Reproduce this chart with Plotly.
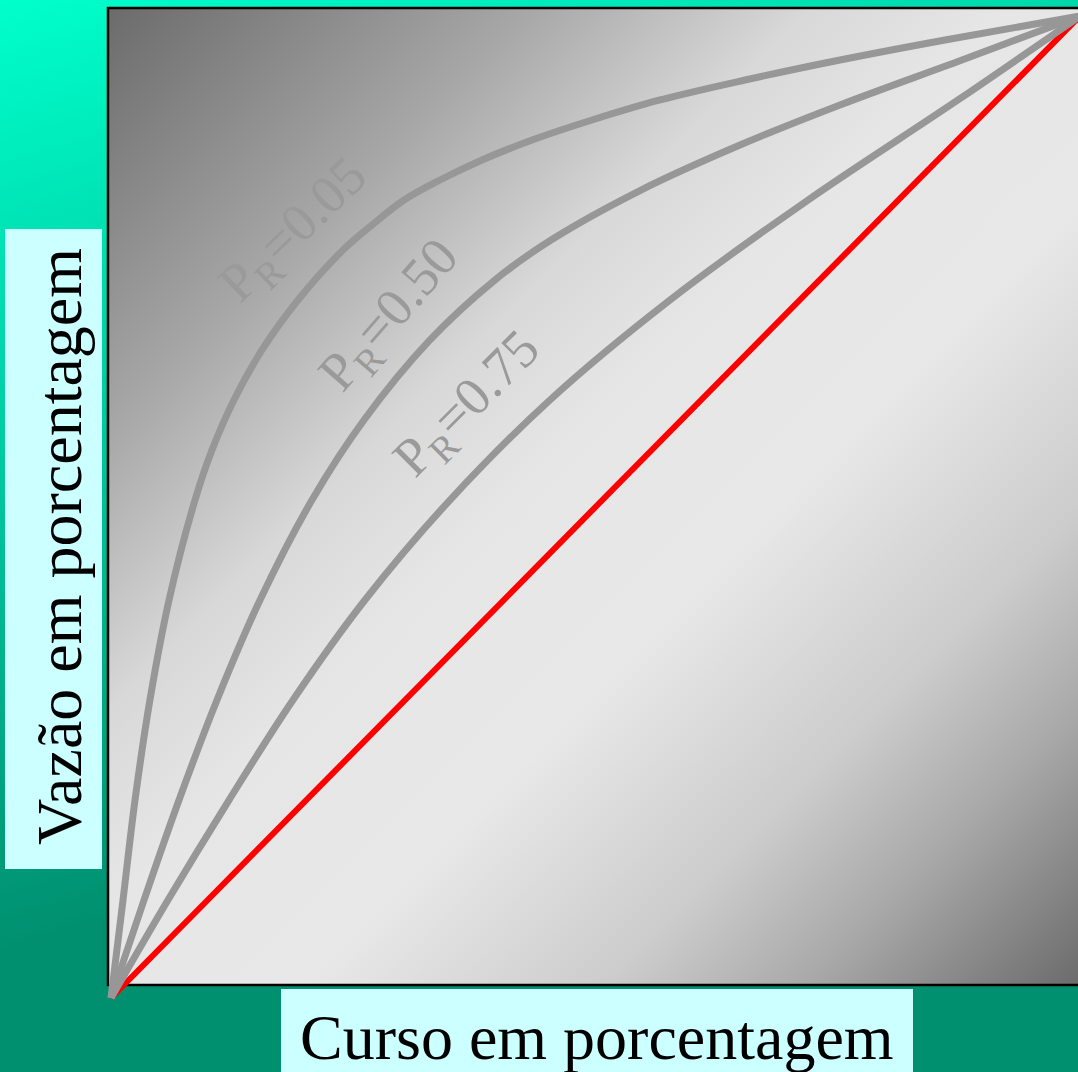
import base64
import plotly.graph_objects as go

W, H = 1078, 1072

# ---- data (percent of stroke vs percent of flow) ----
curso_linear = [0, 100]
vazao_linear = [0, 100]

curso_pr005 = [0, 1.24, 2.48, 4.02, 5.99, 8.67, 10.42, 12.69, 15.58, 19.30, 23.94, 26.94, 30.24,
               33.95, 38.29, 43.45, 49.64, 56.66, 65.43, 75.23, 86.07, 100]
vazao_pr005 = [0, 9.98, 20.16, 30.35, 40.53, 50.71, 55.80, 60.90, 65.99, 71.08, 76.17, 78.72, 81.26,
               83.30, 85.34, 87.37, 89.41, 91.45, 93.48, 95.52, 97.56, 100]

curso_pr050 = [0, 3.41, 7.02, 10.94, 15.38, 20.74, 26.11, 32.92, 39.63, 45.41, 54.70, 64.91, 75.23, 87.82, 100]
vazao_pr050 = [0, 9.98, 20.16, 30.35, 40.53, 50.71, 58.86, 67.01, 73.12, 77.19, 82.28, 86.86, 90.94, 95.52, 100]

curso_pr075 = [0, 5.88, 12.18, 18.78, 26.21, 34.98, 45.30, 57.69, 71.93, 87.41, 100]
vazao_pr075 = [0, 9.98, 20.16, 30.35, 40.53, 50.71, 60.90, 71.08, 81.26, 91.45, 100]

curve_labels = ["P<sub>R</sub>=0.05", "P<sub>R</sub>=0.50", "P<sub>R</sub>=0.75"]
x_title = "Curso em porcentagem"
y_title = "Vazão em porcentagem"

# ---- styling helpers ----
def svg_uri(svg):
    return "data:image/svg+xml;base64," + base64.b64encode(svg.encode("utf-8")).decode("ascii")

bg_svg = f'''<svg xmlns="http://www.w3.org/2000/svg" width="{W}" height="{H}" viewBox="0 0 {W} {H}" preserveAspectRatio="none">
<defs><linearGradient id="t" gradientUnits="userSpaceOnUse" x1="0" y1="0" x2="269" y2="869">
<stop offset="0" stop-color="#00FFCC"/><stop offset="1" stop-color="#009070"/>
</linearGradient></defs>
<rect width="{W}" height="{H}" fill="url(#t)"/></svg>'''

PX0, PY0, PX1, PY1 = 108, 8, 1080, 985
pw, ph = PX1 - PX0, PY1 - PY0
plot_svg = f'''<svg xmlns="http://www.w3.org/2000/svg" width="{pw}" height="{ph}" viewBox="0 0 {pw} {ph}" preserveAspectRatio="none">
<defs><linearGradient id="g" x1="0" y1="0" x2="1" y2="1">
<stop offset="0" stop-color="#6b6b6b"/>
<stop offset="0.22" stop-color="#a8a8a8"/>
<stop offset="0.36" stop-color="#d8d8d8"/>
<stop offset="0.46" stop-color="#e6e6e6"/>
<stop offset="0.60" stop-color="#e8e8e8"/>
<stop offset="0.757" stop-color="#cccccc"/>
<stop offset="0.86" stop-color="#a8a8a8"/>
<stop offset="1" stop-color="#6b6b6b"/>
</linearGradient></defs>
<rect width="{pw}" height="{ph}" fill="url(#g)"/></svg>'''

def px(x):
    return x / W

def py(y):
    return 1 - y / H

fig = go.Figure()

fig.add_trace(go.Scatter(x=curso_linear, y=vazao_linear, mode="lines",
                         line=dict(color="#FF0000", width=6), hoverinfo="skip"))
for cx, cy in [(curso_pr005, vazao_pr005), (curso_pr050, vazao_pr050), (curso_pr075, vazao_pr075)]:
    fig.add_trace(go.Scatter(x=cx, y=cy, mode="lines",
                             line=dict(color="#979797", width=7, shape="spline", smoothing=1.0),
                             hoverinfo="skip"))

# axis ranges so that the plot area maps onto the slide layout
sx, sy = 9.69, 9.82
ox, oy = 111, 998
fig.update_xaxes(range=[(0 - ox) / sx, (W - ox) / sx], visible=False, domain=[0, 1])
fig.update_yaxes(range=[(oy - H) / sy, (oy - 0) / sy], visible=False, domain=[0, 1])

fig.add_layout_image(dict(source=svg_uri(bg_svg), xref="paper", yref="paper",
                          x=0, y=1, sizex=1, sizey=1, sizing="stretch",
                          xanchor="left", yanchor="top", layer="below"))
fig.add_layout_image(dict(source=svg_uri(plot_svg), xref="paper", yref="paper",
                          x=px(PX0), y=py(PY0), sizex=pw / W, sizey=ph / H, sizing="stretch",
                          xanchor="left", yanchor="top", layer="below"))

shapes = [
    dict(type="rect", xref="paper", yref="paper", x0=px(PX0), x1=px(PX1 + 10), y0=py(PY1), y1=py(PY0),
         line=dict(color="#000000", width=2.5), fillcolor="rgba(0,0,0,0)", layer="below"),
    dict(type="rect", xref="paper", yref="paper", x0=px(5), x1=px(102), y0=py(869), y1=py(229),
         line=dict(width=0), fillcolor="#CCFFFF", layer="below"),
    dict(type="rect", xref="paper", yref="paper", x0=px(281), x1=px(913), y0=py(H + 5), y1=py(989),
         line=dict(width=0), fillcolor="#CCFFFF", layer="below"),
]
fig.update_layout(shapes=shapes)

serif = "Liberation Serif, Times New Roman, serif"
annotations = [
    dict(text=x_title, xref="paper", yref="paper", x=px(597), y=py(1037), showarrow=False,
         xanchor="center", yanchor="middle", font=dict(family=serif, size=64, color="#000000")),
    dict(text=y_title, xref="paper", yref="paper", x=px(59), y=py(547), showarrow=False,
         xanchor="center", yanchor="middle", textangle=-90,
         font=dict(family=serif, size=64, color="#000000")),
]
label_pos = [(295, 232, -44), (391, 317, -49), (468, 405, -45)]
for txt, (lx, ly, ang) in zip(curve_labels, label_pos):
    annotations.append(dict(text=txt, xref="paper", yref="paper", x=px(lx), y=py(ly), showarrow=False,
                            xanchor="center", yanchor="middle", textangle=ang,
                            font=dict(family=serif, size=54, color="#9a9a9a")))
fig.update_layout(annotations=annotations)

fig.update_layout(width=W, height=H, margin=dict(l=0, r=0, t=0, b=0, pad=0),
                  paper_bgcolor="#00C8A0", plot_bgcolor="rgba(0,0,0,0)", showlegend=False)

fig.write_html("out.html", config={"displayModeBar": False, "staticPlot": True},
               post_script="document.body.style.margin='0px';document.body.style.overflow='hidden';")
